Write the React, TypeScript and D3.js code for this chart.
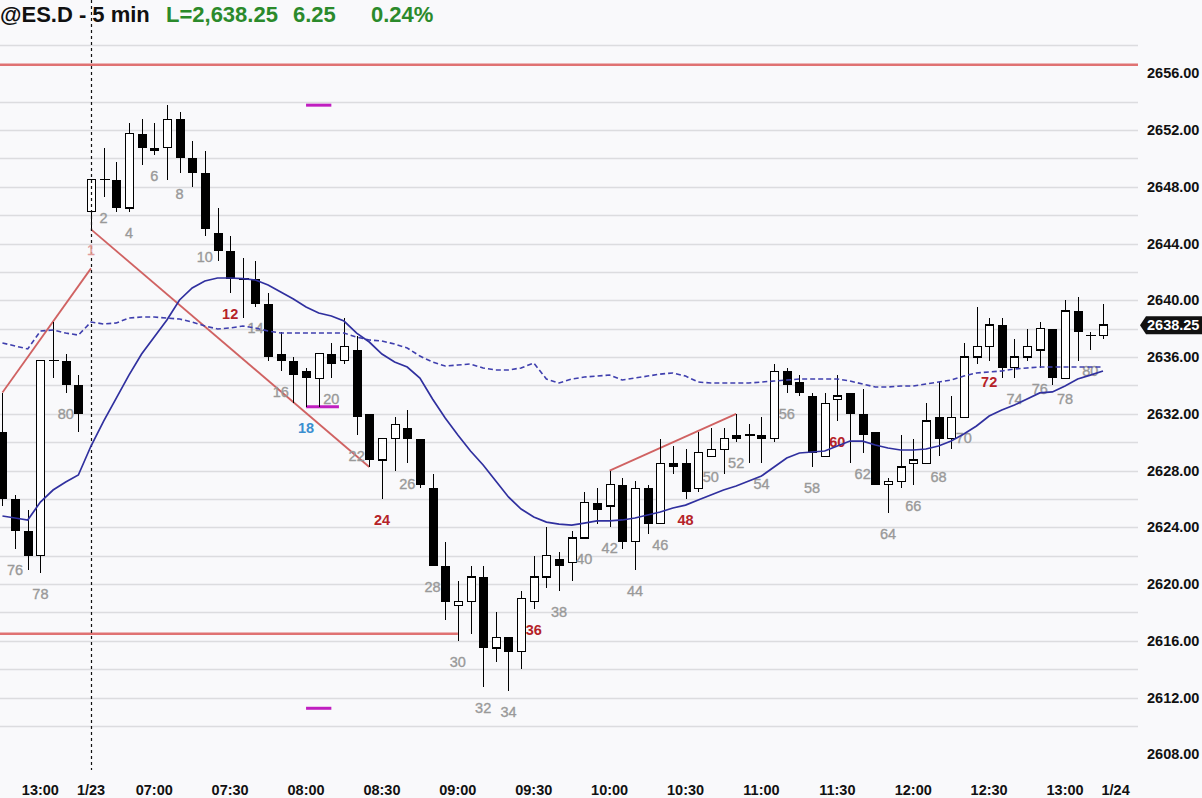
import React, { useEffect, useRef } from 'react';
import * as d3 from 'd3';

// session bar numbers: last 7 bars of 1/22, then 1/23 bars 1..81
const barNums = [75, 76, 77, 78, 79, 80, 81].concat(d3.range(1, 82));

const opens = [
  2630.75, 2626, 2623.75, 2622, 2635.75, 2635.75, 2634,
  2646.25, 2648.5, 2648.5, 2646.5, 2651.75, 2650.75, 2650.75, 2652.75, 2650, 2649,
  2644.75, 2643.5, 2641.5, 2641.5, 2639.75, 2636.25, 2635.75, 2635, 2634.5, 2636.25,
  2635.75, 2636.5, 2632, 2628.75, 2630.25, 2631, 2630.25, 2626.75, 2621.25, 2618.5,
  2618.75, 2620.5, 2615.5, 2616.25, 2615.25, 2618.75, 2620.5, 2621.75, 2621.5, 2623.25,
  2625.75, 2625.5, 2627, 2623, 2626.75, 2624.25, 2628.5, 2628.5, 2626.75, 2629,
  2629.5, 2630.5, 2630.5, 2630.5, 2630.25, 2635, 2634.25, 2633.25, 2629, 2633,
  2633.5, 2632, 2630.75, 2627, 2627.25, 2628.5, 2628.5, 2631.75, 2630.25, 2631.75,
  2636, 2636.75, 2638.25, 2635.25, 2636, 2636.5, 2638, 2634.5, 2639.25, 2637.5, 2637.5,
];
const highs = [
  2633.5, 2626.25, 2625.25, 2635.75, 2638.5, 2636.25, 2634.75,
  2648.5, 2650.75, 2649.75, 2652.5, 2652.75, 2652.5, 2653.75, 2653.25, 2651.25, 2650.5,
  2646.5, 2644.5, 2643, 2642.75, 2640.5, 2637.75, 2636, 2635.25, 2636.25, 2637,
  2638.75, 2637.5, 2632, 2630.25, 2631.75, 2632.25, 2630.25, 2627.75, 2623, 2620.25,
  2621.25, 2621.25, 2618, 2616.25, 2619.5, 2622, 2624, 2622.25, 2623.75, 2626.5,
  2626.75, 2628, 2627.5, 2627.25, 2627, 2630.25, 2629.75, 2629.5, 2630.75, 2631,
  2631, 2632, 2631.25, 2631.75, 2635.5, 2635.25, 2634.75, 2633.5, 2633.5, 2634.75,
  2633.5, 2633.75, 2630.75, 2627.5, 2630.5, 2630.25, 2632.75, 2634.25, 2633.25, 2637,
  2639.5, 2638.75, 2638.75, 2637.25, 2638, 2638.5, 2638, 2640, 2640.25, 2637.75, 2639.75,
];
const lows = [
  2625.5, 2622.5, 2621, 2620.75, 2634.5, 2633.5, 2630.75,
  2645, 2647.25, 2646.25, 2646.25, 2649.5, 2650.25, 2648.5, 2649, 2648, 2644.5,
  2642.75, 2640.5, 2638.75, 2639.5, 2635.75, 2635, 2632.75, 2632.5, 2632.5, 2634.5,
  2635.5, 2630.5, 2628.25, 2626, 2628, 2628.5, 2626.75, 2621.25, 2617.5, 2616,
  2616.5, 2612.75, 2614.5, 2612.5, 2614, 2618.25, 2619.75, 2619.5, 2620.25, 2623.25,
  2624.25, 2624, 2622.5, 2621, 2623.5, 2624.25, 2627.75, 2626, 2626.5, 2629,
  2627.75, 2630, 2628.5, 2628.5, 2630, 2633.5, 2633.25, 2628.25, 2629, 2631.5,
  2628.5, 2629.25, 2627, 2625, 2626.75, 2627, 2628.5, 2629, 2629.5, 2631.75,
  2635.5, 2635.75, 2634.5, 2634.5, 2635.75, 2635.25, 2634, 2634.5, 2635.75, 2636.5, 2637.25,
];
const closes = [
  2626, 2623.75, 2622, 2635.75, 2635.75, 2634, 2632,
  2648.5, 2648.5, 2646.5, 2651.75, 2650.75, 2650.5, 2652.75, 2650, 2649, 2645,
  2643.5, 2641.5, 2641.5, 2639.75, 2636, 2635.75, 2634.75, 2634.5, 2636.25, 2635.5,
  2636.75, 2631.75, 2628.75, 2630.25, 2631.25, 2630.25, 2627, 2621.25, 2618.75, 2618.75,
  2620.5, 2615.5, 2616.25, 2615.25, 2619, 2620.5, 2622, 2621.25, 2623.25, 2625.75,
  2625.25, 2627, 2623, 2626.75, 2624.25, 2628.5, 2628.25, 2626.5, 2629.25, 2629.5,
  2630.25, 2630.25, 2630.5, 2630.25, 2635, 2634, 2633.5, 2629.25, 2632.75, 2633.25,
  2632, 2630.5, 2627, 2627.25, 2628.25, 2628.75, 2631.5, 2630.25, 2631.75, 2636,
  2636.75, 2638.25, 2635.25, 2636, 2636.75, 2638, 2634.5, 2639.25, 2637.75, 2637.5, 2638.25,
];

// 20 bar EMA (solid) and higher time frame EMA (dashed), read per bar
const emaSolid = [
  2624.8, 2624.66, 2624.52, 2625.78, 2626.63, 2627.19, 2627.69,
  2629.73, 2631.49, 2633.11, 2634.73, 2636.21, 2637.41, 2638.61, 2640.02, 2640.87, 2641.36,
  2641.57, 2641.57, 2641.53, 2641.43, 2641.08, 2640.58, 2640.09, 2639.53, 2639.1, 2638.89,
  2638.54, 2637.69, 2637.06, 2636.21, 2635.65, 2635.3, 2634.52, 2633.04, 2631.7, 2630.51,
  2629.38, 2628.39, 2627.26, 2626.14, 2625.29, 2624.73, 2624.37, 2624.23, 2624.16, 2624.3,
  2624.45, 2624.45, 2624.52, 2624.66, 2624.87, 2625.08, 2625.36, 2625.57, 2625.93, 2626.28,
  2626.63, 2626.91, 2627.26, 2627.62, 2628.25, 2628.89, 2629.24, 2629.31, 2629.38, 2629.73,
  2630.08, 2630.08, 2629.8, 2629.59, 2629.45, 2629.45, 2629.52, 2629.73, 2630.08, 2630.58,
  2631.14, 2631.84, 2632.27, 2632.62, 2633.04, 2633.47, 2633.54, 2633.96, 2634.45, 2634.73, 2635.02,
];
const emaDashed = [
  2636.99, 2636.78, 2636.57, 2637.83, 2637.91, 2637.69, 2637.55,
  2638.47, 2638.33, 2638.4, 2638.75, 2638.82, 2638.82, 2638.75, 2638.68, 2638.47, 2638.19,
  2637.98, 2638.05, 2638.19, 2638.05, 2637.83, 2637.69, 2637.69, 2637.69, 2637.69, 2637.69,
  2637.69, 2637.41, 2637.2, 2637.13, 2636.92, 2636.64, 2636.07, 2635.65, 2635.37, 2635.44,
  2635.51, 2635.23, 2635.09, 2635.09, 2635.23, 2635.58, 2634.45, 2634.17, 2634.45, 2634.59,
  2634.66, 2634.73, 2634.38, 2634.52, 2634.66, 2634.8, 2634.88, 2634.66, 2634.24, 2634.17,
  2634.17, 2634.17, 2634.17, 2634.24, 2634.31, 2634.38, 2634.45, 2634.45, 2634.45, 2634.45,
  2634.31, 2634.1, 2633.89, 2633.89, 2633.96, 2633.96, 2634.1, 2634.24, 2634.38, 2634.66,
  2634.88, 2634.95, 2635.02, 2635.16, 2635.23, 2635.3, 2635.3, 2635.3, 2635.3, 2635.3, 2635.3,
];

// trend lines as [bar offset, price] pairs (offset 0 = bar 1 of 1/23)
const trendLines: [number, number, number, number][] = [
  [-7, 2633.5, 0, 2642.25],
  [0, 2645, 22, 2628.25],
  [41, 2628, 51, 2632],
];
const supportPrice = 2616.5;
const supportEnd = 29;
const resistancePrice = 2656.6;
const targetPrices = [2653.75, 2632.5, 2611.25];
const targetEnds = [19, 19.6, 19];
const targetStart = 17;

const timeLabels = ['13:00', '1/23', '07:00', '07:30', '08:00', '08:30', '09:00', '09:30', '10:00',
  '10:30', '11:00', '11:30', '12:00', '12:30', '13:00', '1/24'];
const timeLabelBars = [-4, 0, 5, 11, 17, 23, 29, 35, 41, 47, 53, 59, 65, 71, 77, 81];
const priceTicks = d3.range(2608, 2657, 4);
const gridPrices = d3.range(2610, 2659, 2).filter((p) => p !== 2656);

const symbol = '@ES.D - 5 min';
const lastPrice = 'L=2,638.25';
const netChange = '6.25';
const pctChange = '0.24%';
const lastValue = 2638.25;

export default function App() {
  const svgRef = useRef<SVGSVGElement>(null);

  useEffect(() => {
    if (!svgRef.current) return;
    const svg = d3.select(svgRef.current);
    svg.selectAll('*').remove();

    const W = 1202;
    const H = 798;
    const plotRight = 1138;
    const font = '"Liberation Sans", Arial, Helvetica, sans-serif';

    const x = d3.scaleLinear().domain([0, 80]).range([91, 1103]);
    const y = d3.scaleLinear().domain([2608, 2652]).range([754.4, 130]);

    const bars = barNums.map((n, i) => ({
      k: i - 7, n, today: i >= 7,
      o: opens[i], h: highs[i], l: lows[i], c: closes[i],
    }));

    svg.append('rect').attr('width', W).attr('height', H).attr('fill', '#f9f9fb');

    // grid
    svg.append('g')
      .selectAll('line')
      .data(gridPrices)
      .enter()
      .append('line')
      .attr('x1', 0)
      .attr('x2', plotRight)
      .attr('y1', (d) => Math.round(y(d)) + 0.5)
      .attr('y2', (d) => Math.round(y(d)) + 0.5)
      .attr('stroke', '#dcdcdf')
      .attr('stroke-width', 1.4);

    // horizontal levels
    svg.append('line')
      .attr('x1', 0).attr('x2', plotRight)
      .attr('y1', y(resistancePrice)).attr('y2', y(resistancePrice))
      .attr('stroke', '#e07272').attr('stroke-width', 2.5);
    svg.append('line')
      .attr('x1', 0).attr('x2', x(supportEnd))
      .attr('y1', y(supportPrice)).attr('y2', y(supportPrice))
      .attr('stroke', '#e07272').attr('stroke-width', 2.5);

    // trend lines
    svg.append('g')
      .selectAll('line')
      .data(trendLines)
      .enter()
      .append('line')
      .attr('x1', (d) => x(d[0]))
      .attr('y1', (d) => y(d[1]))
      .attr('x2', (d) => x(d[2]))
      .attr('y2', (d) => y(d[3]))
      .attr('stroke', '#d06262')
      .attr('stroke-width', 1.8);

    // measured move targets
    svg.append('g')
      .selectAll('line')
      .data(targetPrices)
      .enter()
      .append('line')
      .attr('x1', x(targetStart))
      .attr('x2', (d, i) => x(targetEnds[i]))
      .attr('y1', (d) => y(d))
      .attr('y2', (d) => y(d))
      .attr('stroke', '#c01ec0')
      .attr('stroke-width', 3);

    // candles
    const candle = svg.append('g').attr('shape-rendering', 'crispEdges');
    bars.forEach((b) => {
      const cx = Math.round(x(b.k)) + 0.5;
      candle.append('line')
        .attr('x1', cx).attr('x2', cx)
        .attr('y1', y(b.h)).attr('y2', y(b.l))
        .attr('stroke', '#000').attr('stroke-width', 1.3);
      if (b.o === b.c) {
        candle.append('line')
          .attr('x1', cx - 5).attr('x2', cx + 5)
          .attr('y1', y(b.o)).attr('y2', y(b.o))
          .attr('stroke', '#000').attr('stroke-width', 1.3);
      } else if (b.c > b.o) {
        candle.append('rect')
          .attr('x', cx - 4).attr('width', 8)
          .attr('y', y(b.c)).attr('height', y(b.o) - y(b.c))
          .attr('fill', '#fff').attr('stroke', '#000').attr('stroke-width', 1.3);
      } else {
        candle.append('rect')
          .attr('x', cx - 4.5).attr('width', 9)
          .attr('y', y(b.o)).attr('height', Math.max(1, y(b.c) - y(b.o)))
          .attr('fill', '#000');
      }
    });

    // day separator
    svg.append('line')
      .attr('x1', x(0) + 0.5).attr('x2', x(0) + 0.5)
      .attr('y1', 0).attr('y2', 770)
      .attr('stroke', '#111').attr('stroke-width', 1.2)
      .attr('stroke-dasharray', '3,3');

    // bar numbers
    const labelColor = (b: (typeof bars)[0]) => {
      if (!b.today) return '#999999';
      if (b.n === 1) return '#e09a9a';
      if (b.n === 18) return '#3a8fd0';
      if (b.n % 12 === 0) return '#b52228';
      return '#999999';
    };
    svg.append('g')
      .selectAll('text')
      .data(bars.filter((b) => b.n % 2 === 0 || (b.today && b.n === 1)))
      .enter()
      .append('text')
      .attr('x', (d) => x(d.k))
      .attr('y', (d) => y(d.l) + 26)
      .attr('text-anchor', 'middle')
      .attr('font-family', font)
      .attr('font-size', 14.5)
      .attr('font-weight', (d) => (d.today && (d.n % 12 === 0 || d.n === 18) ? 'bold' : 'normal'))
      .attr('stroke', labelColor)
      .attr('stroke-width', (d) => (d.today && (d.n % 12 === 0 || d.n === 18) ? 0 : 0.35))
      .attr('fill', labelColor)
      .text((d) => d.n);

    // moving averages
    const line = d3.line<number>()
      .x((d, i) => x(i - 7))
      .y((d) => y(d));

    svg.append('path')
      .datum(emaDashed)
      .attr('fill', 'none')
      .attr('stroke', '#3f3fae')
      .attr('stroke-width', 1.6)
      .attr('stroke-dasharray', '5,3')
      .attr('d', line);

    svg.append('path')
      .datum(emaSolid)
      .attr('fill', 'none')
      .attr('stroke', '#30309f')
      .attr('stroke-width', 1.7)
      .attr('d', line);

    // price axis
    svg.append('g')
      .selectAll('text')
      .data(priceTicks)
      .enter()
      .append('text')
      .attr('x', 1147)
      .attr('y', (d) => y(d) + 5)
      .attr('font-family', font)
      .attr('font-size', 14.5)
      .attr('font-weight', 'bold')
      .attr('fill', '#111')
      .text((d) => d.toFixed(2));

    // last price badge
    const ly = y(lastValue);
    svg.append('path')
      .attr('d', `M${plotRight + 2},${ly} L${plotRight + 8},${ly - 9} L${W},${ly - 9} L${W},${ly + 9} L${plotRight + 8},${ly + 9} Z`)
      .attr('fill', '#111');
    svg.append('text')
      .attr('x', 1147)
      .attr('y', ly + 5)
      .attr('font-family', font)
      .attr('font-size', 14.5)
      .attr('font-weight', 'bold')
      .attr('fill', '#fff')
      .text(lastValue.toFixed(2));

    // time axis
    svg.append('g')
      .selectAll('text')
      .data(timeLabels)
      .enter()
      .append('text')
      .attr('x', (d, i) => x(timeLabelBars[i]))
      .attr('y', 795)
      .attr('text-anchor', 'middle')
      .attr('font-family', font)
      .attr('font-size', 14.5)
      .attr('font-weight', 'bold')
      .attr('fill', '#111')
      .text((d) => d);

    // header
    const header = svg.append('g')
      .attr('font-family', font)
      .attr('font-size', 22)
      .attr('font-weight', 'bold');
    header.append('text').attr('x', 0).attr('y', 22).attr('fill', '#111').text(symbol);
    header.append('text').attr('x', 166).attr('y', 22).attr('fill', '#2b8a2b').text(lastPrice);
    header.append('text').attr('x', 293).attr('y', 22).attr('fill', '#2b8a2b').text(netChange);
    header.append('text').attr('x', 371).attr('y', 22).attr('fill', '#2b8a2b').text(pctChange);
  }, []);

  return (
    <svg
      ref={svgRef}
      width={1202}
      height={798}
      style={{ position: 'absolute', left: 0, top: 0 }}
    />
  );
}
